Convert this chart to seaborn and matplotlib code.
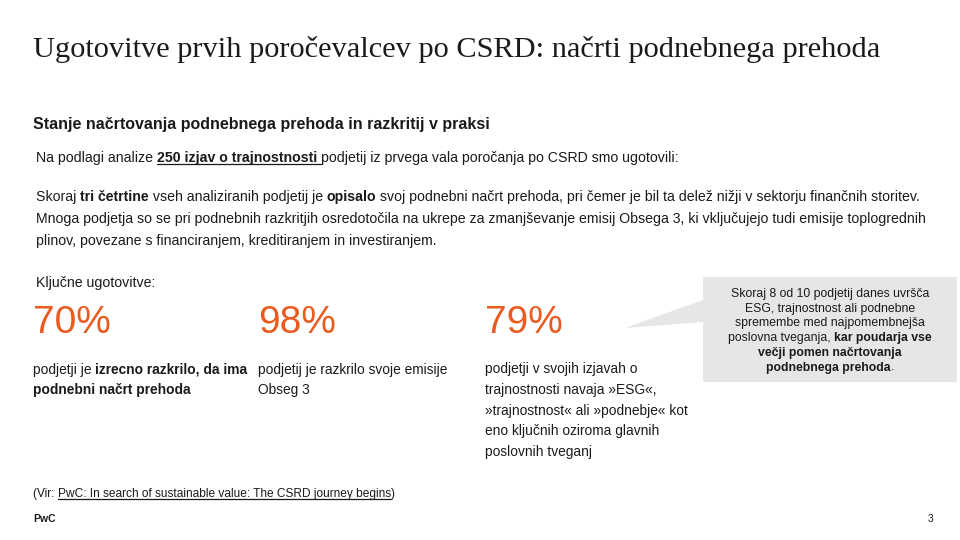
import matplotlib
matplotlib.use("Agg")
import matplotlib.pyplot as plt
import seaborn as sns
from matplotlib.patches import Polygon

sns.set_theme(style="white")
plt.rcParams['font.family'] = ['Liberation Sans', 'DejaVu Sans']

percent_values = [70, 98, 79]
percent_x = [33, 258, 485]
ORANGE = '#EB5A1E'

W, H = 960, 540
fig = plt.figure(figsize=(9.6, 5.4), dpi=100)
fig.patch.set_facecolor('white')
renderer = fig.canvas.get_renderer()

def fx(x): return x / W
def fy(y): return 1 - y / H

def runs(x, y, parts, size=9.5, color='#1a1a1a', align='left'):
    texts = []
    widths = []
    for t, b, u in parts:
        tt = fig.text(0, 0, t, fontsize=size, fontweight='bold' if b else 'normal',
                      color=color, va='baseline', ha='left')
        w = tt.get_window_extent(renderer).width
        texts.append((tt, u)); widths.append(w)
    total = sum(widths)
    cx = x - total / 2 if align == 'center' else x
    for (tt, u), w in zip(texts, widths):
        tt.set_position((fx(cx), fy(y)))
        if u:
            fig.add_artist(plt.Line2D([fx(cx), fx(cx + w)], [fy(y + 2)] * 2,
                                      color=color, lw=0.9))
        cx += w

fig.text(fx(33), fy(57), 'Ugotovitve prvih poročevalcev po CSRD: načrti podnebnega prehoda',
         fontsize=21.9, family='Liberation Serif', color='#1a1a1a', va='baseline')

P = 10.2
runs(33, 129, [('Stanje načrtovanja podnebnega prehoda in razkritij v praksi', True, False)], size=11.5)
runs(36, 162, [('Na podlagi analize ', False, False), ('250 izjav o trajnostnosti ', True, True),
               ('podjetij iz prvega vala poročanja po CSRD smo ugotovili:', False, False)], size=P)
runs(36, 201, [('Skoraj ', False, False), ('tri četrtine', True, False),
               (' vseh analiziranih podjetij je ', False, False), ('opisalo', True, False),
               (' svoj podnebni načrt prehoda, pri čemer je bil ta delež nižji v sektorju finančnih storitev.', False, False)], size=P)
runs(36, 223, [('Mnoga podjetja so se pri podnebnih razkritjih osredotočila na ukrepe za zmanjševanje emisij Obsega 3, ki vključujejo tudi emisije toplogrednih', False, False)], size=P)
runs(36, 245, [('plinov, povezane s financiranjem, kreditiranjem in investiranjem.', False, False)], size=P)
runs(36, 287, [('Ključne ugotovitve:', False, False)], size=P)

for v, x in zip(percent_values, percent_x):
    fig.text(fx(x), fy(333), f'{v}%', fontsize=28, color=ORANGE, va='baseline')

C = 9.9
runs(33, 374, [('podjetji je ', False, False), ('izrecno razkrilo, da ima', True, False)], size=C)
runs(33, 394, [('podnebni načrt prehoda', True, False)], size=C)
runs(258, 374, [('podjetij je razkrilo svoje emisije', False, False)], size=C)
runs(258, 394, [('Obseg 3', False, False)], size=C)
col3 = ['podjetji v svojih izjavah o', 'trajnostnosti navaja »ESG«,',
        '»trajnostnost« ali »podnebje« kot', 'eno ključnih oziroma glavnih',
        'poslovnih tveganj']
for i, l in enumerate(col3):
    runs(485, 373 + i * 20.8, [(l, False, False)], size=C)

ax = fig.add_axes([0, 0, 1, 1]); ax.set_xlim(0, W); ax.set_ylim(H, 0); ax.axis('off')
ax.set_zorder(-1)
ax.add_patch(Polygon([(703, 277), (957, 277), (957, 382), (703, 382), (703, 322),
                      (625, 328), (703, 300)], closed=True, facecolor='#E6E6E6', edgecolor='none'))
cl = [[('Skoraj 8 od 10 podjetij danes uvršča', False, False)],
      [('ESG, trajnostnost ali podnebne', False, False)],
      [('spremembe med najpomembnejša', False, False)],
      [('poslovna tveganja, ', False, False), ('kar poudarja vse', True, False)],
      [('večji pomen načrtovanja', True, False)],
      [('podnebnega prehoda', True, False), ('.', False, False)]]
for i, p in enumerate(cl):
    runs(830, 297 + i * 14.7, p, size=8.8, align='center')

runs(33, 497, [('(Vir: ', False, False), ('PwC: In search of sustainable value: The CSRD journey begins', False, True),
               (')', False, False)], size=8.6)
runs(33, 522, [('PwC', True, False)], size=7.5)
fig.text(fx(928), fy(522), '3', fontsize=7.5, color='#1a1a1a', va='baseline')

fig.savefig('out.png', dpi=100)
